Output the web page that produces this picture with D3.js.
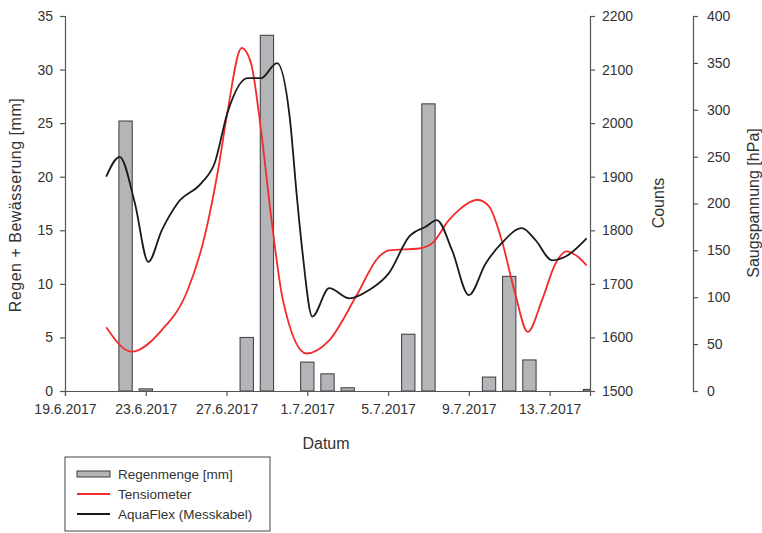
<!DOCTYPE html>
<html>
<head>
<meta charset="utf-8">
<script src="https://cdn.jsdelivr.net/npm/d3@7"></script>
<style>
  body { margin: 0; background: #fff; }
  text { font-family: "Liberation Sans", Arial, sans-serif; fill: #333; }
</style>
</head>
<body>
<div id="chart"></div>
<script>
(function() {
  // Regenmenge (bars), one per day
  var rainDates = ["2017-06-22", "2017-06-23", "2017-06-28", "2017-06-29", "2017-07-01", "2017-07-02",
    "2017-07-03", "2017-07-06", "2017-07-07", "2017-07-10", "2017-07-11", "2017-07-12", "2017-07-15"];
  var rainValues = [25.2, 0.2, 5.0, 33.2, 2.7, 1.6, 0.3, 5.3, 26.8, 1.3, 10.7, 2.9, 0.15];

  // Tensiometer, Saugspannung [hPa]
  var tensioTimes = ["2017-06-21 01:00", "2017-06-22 07:00", "2017-06-23 19:00", "2017-06-25 02:00",
    "2017-06-25 22:00", "2017-06-26 14:00", "2017-06-27 01:00", "2017-06-27 18:00", "2017-06-28 05:00",
    "2017-06-28 17:00", "2017-06-29 05:00", "2017-06-29 19:00", "2017-06-30 23:00", "2017-07-02 02:00",
    "2017-07-03 10:00", "2017-07-04 13:00", "2017-07-05 01:00", "2017-07-06 13:00", "2017-07-07 05:00",
    "2017-07-08 00:00", "2017-07-08 12:00", "2017-07-09 10:00", "2017-07-10 00:00", "2017-07-10 15:00",
    "2017-07-11 07:00", "2017-07-11 22:00", "2017-07-12 15:00", "2017-07-13 07:00", "2017-07-13 20:00",
    "2017-07-14 10:00", "2017-07-14 20:00"];
  var tensioValues = [68, 42, 65, 108, 165, 236, 297, 366, 350, 278, 186, 97, 40, 54,
    101, 143, 150, 152, 158, 182, 193, 204, 197, 161, 104, 63, 97, 136, 149, 143, 134];

  // AquaFlex (Messkabel), Counts
  var aquaTimes = ["2017-06-21 01:00", "2017-06-21 17:00", "2017-06-22 11:00", "2017-06-23 03:00",
    "2017-06-23 19:00", "2017-06-24 14:00", "2017-06-25 18:00", "2017-06-26 10:00", "2017-06-27 01:00",
    "2017-06-28 01:00", "2017-06-28 17:00", "2017-06-29 12:00", "2017-06-30 03:00", "2017-06-30 12:00",
    "2017-06-30 18:00", "2017-07-01 06:00", "2017-07-02 02:00", "2017-07-03 02:00", "2017-07-04 01:00",
    "2017-07-05 01:00", "2017-07-06 01:00", "2017-07-06 21:00", "2017-07-07 10:00", "2017-07-08 04:00",
    "2017-07-09 00:00", "2017-07-09 20:00", "2017-07-10 15:00", "2017-07-11 15:00", "2017-07-12 07:00",
    "2017-07-13 03:00", "2017-07-13 19:00", "2017-07-14 20:00"];
  var aquaValues = [1900, 1937, 1851, 1741, 1800, 1851, 1888, 1926, 2019, 2084, 2084, 2112, 2012, 1856,
    1763, 1639, 1692, 1673, 1688, 1720, 1788, 1807, 1819, 1763, 1679, 1738, 1776, 1804, 1782,
    1744, 1751, 1785];

  var xTickDates = ["2017-06-19", "2017-06-23", "2017-06-27", "2017-07-01", "2017-07-05", "2017-07-09", "2017-07-13"];
  var leftTicks = [0, 5, 10, 15, 20, 25, 30, 35];
  var countTicks = [1500, 1600, 1700, 1800, 1900, 2000, 2100, 2200];
  var hpaTicks = [0, 50, 100, 150, 200, 250, 300, 350, 400];
  var legendLabels = ["Regenmenge [mm]", "Tensiometer", "AquaFlex (Messkabel)"];

  var width = 762, height = 533;
  var left = 65, right = 590, top = 16, bottom = 391;

  var parseDay = d3.timeParse("%Y-%m-%d");
  var parseTime = d3.timeParse("%Y-%m-%d %H:%M");
  var fmt = d3.timeFormat("%-d.%-m.%Y");

  var svg = d3.select("#chart").append("svg")
    .attr("width", width)
    .attr("height", height);

  var x = d3.scaleTime()
    .domain([parseDay("2017-06-19"), parseDay("2017-07-15")])
    .range([left, right]);
  var yRain = d3.scaleLinear().domain([0, 35]).range([bottom, top]);
  var yCount = d3.scaleLinear().domain([1500, 2200]).range([bottom, top]);
  var yHpa = d3.scaleLinear().domain([0, 400]).range([bottom, top]);

  svg.append("clipPath").attr("id", "plot-clip")
    .append("rect")
    .attr("x", left).attr("y", top - 5)
    .attr("width", right - left).attr("height", bottom - top + 5);

  // bars, about 2/3 of a day wide
  var barW = (x(parseDay("2017-06-20")) - x(parseDay("2017-06-19"))) * 0.66;
  svg.append("g")
    .attr("clip-path", "url(#plot-clip)")
    .selectAll("rect")
    .data(rainDates.map(function(d, i) { return { date: parseDay(d), value: rainValues[i] }; }))
    .enter()
    .append("rect")
    .attr("x", function(d) { return x(d.date) - barW / 2; })
    .attr("y", function(d) { return yRain(d.value); })
    .attr("width", barW)
    .attr("height", function(d) { return bottom - yRain(d.value); })
    .attr("fill", "#b3b5b8")
    .attr("stroke", "#3a3a3a")
    .attr("stroke-width", 1);

  // lines
  var tensio = tensioTimes.map(function(t, i) { return { date: parseTime(t), value: tensioValues[i] }; });
  var aqua = aquaTimes.map(function(t, i) { return { date: parseTime(t), value: aquaValues[i] }; });

  svg.append("path")
    .datum(tensio)
    .attr("fill", "none")
    .attr("stroke", "#f22c2c")
    .attr("stroke-width", 1.8)
    .attr("d", d3.line()
      .x(function(d) { return x(d.date); })
      .y(function(d) { return yHpa(d.value); })
      .curve(d3.curveMonotoneX));

  svg.append("path")
    .datum(aqua)
    .attr("fill", "none")
    .attr("stroke", "#1a1a1a")
    .attr("stroke-width", 1.8)
    .attr("d", d3.line()
      .x(function(d) { return x(d.date); })
      .y(function(d) { return yCount(d.value); })
      .curve(d3.curveMonotoneX));

  // axes
  function styleAxis(g) {
    g.selectAll("path, line").attr("stroke", "#555").attr("stroke-width", 1.2);
    g.selectAll("text").style("font-size", "14px").attr("fill", "#333");
  }

  svg.append("g")
    .attr("transform", "translate(0," + bottom + ")")
    .call(d3.axisBottom(x).tickValues(xTickDates.map(parseDay)).tickFormat(fmt).tickSizeOuter(0).tickSize(5).tickPadding(8))
    .call(styleAxis);

  svg.append("g")
    .attr("transform", "translate(" + left + ",0)")
    .call(d3.axisLeft(yRain).tickValues(leftTicks).tickSizeOuter(0).tickSize(5).tickPadding(7))
    .call(styleAxis);

  svg.append("g")
    .attr("transform", "translate(" + right + ",0)")
    .call(d3.axisRight(yCount).tickValues(countTicks).tickFormat(d3.format("d")).tickSizeOuter(0).tickSize(5).tickPadding(7))
    .call(styleAxis);

  svg.append("g")
    .attr("transform", "translate(693,0)")
    .call(d3.axisRight(yHpa).tickValues(hpaTicks).tickSizeOuter(0).tickSize(5).tickPadding(9))
    .call(styleAxis);

  // axis titles
  svg.append("text")
    .attr("transform", "translate(21,205) rotate(-90)")
    .attr("text-anchor", "middle")
    .style("font-size", "16px")
    .style("letter-spacing", "0.5px")
    .text("Regen + Bewässerung [mm]");

  svg.append("text")
    .attr("transform", "translate(664,203) rotate(-90)")
    .attr("text-anchor", "middle")
    .style("font-size", "16px")
    .text("Counts");

  svg.append("text")
    .attr("transform", "translate(759,203) rotate(-90)")
    .attr("text-anchor", "middle")
    .style("font-size", "16px")
    .text("Saugspannung [hPa]");

  svg.append("text")
    .attr("x", 326)
    .attr("y", 449)
    .attr("text-anchor", "middle")
    .style("font-size", "16px")
    .text("Datum");

  // legend
  var legend = svg.append("g").attr("transform", "translate(65,457)");
  legend.append("rect")
    .attr("width", 205).attr("height", 74)
    .attr("fill", "#fff").attr("stroke", "#444").attr("stroke-width", 1);

  legendLabels.forEach(function(label, i) {
    var ly = 17 + i * 20;
    if (i === 0) {
      legend.append("rect")
        .attr("x", 12).attr("y", ly - 3).attr("width", 33).attr("height", 6)
        .attr("fill", "#b3b5b8").attr("stroke", "#3a3a3a");
    } else {
      legend.append("line")
        .attr("x1", 12).attr("x2", 45).attr("y1", ly).attr("y2", ly)
        .attr("stroke", i === 1 ? "#f22c2c" : "#1a1a1a").attr("stroke-width", 1.8);
    }
    legend.append("text")
      .attr("x", 53).attr("y", ly + 5)
      .style("font-size", "13.5px")
      .text(label);
  });
})();
</script>
</body>
</html>
